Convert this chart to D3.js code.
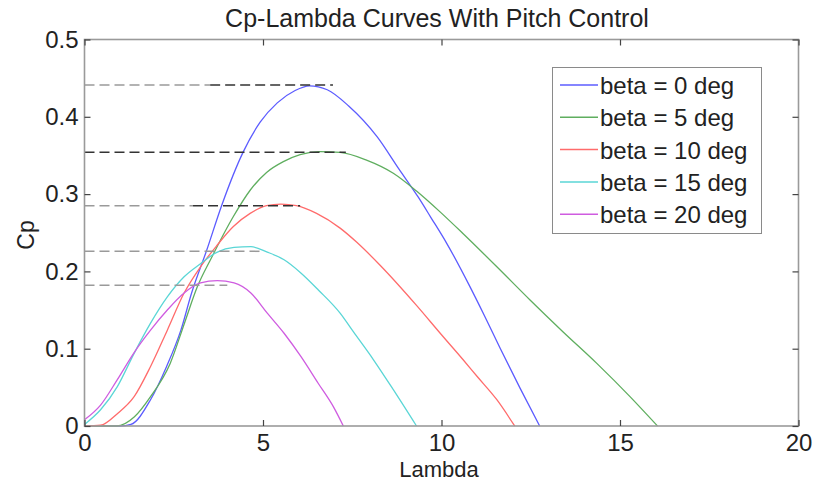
<!DOCTYPE html>
<html>
<head>
<meta charset="utf-8">
<script src="https://cdn.jsdelivr.net/npm/d3@7"></script>
<style>
  body { margin: 0; background: #fff; }
  text { font-family: "Liberation Sans", Arial, sans-serif; fill: #222; }
</style>
</head>
<body>
<div id="panel"></div>
<script>
var w = 814;
var h = 482;

// lambda / Cp pairs, one array per pitch angle
var beta0 = [[0,0],[1.0,0],[1.3,0.002],[1.85,0.034],[2.3,0.077],[2.7,0.124],[3.0,0.172],[3.42,0.227],[3.84,0.285],[4.44,0.354],[4.92,0.393],[5.4,0.418],[5.9,0.434],[6.3,0.440],[6.8,0.435],[7.4,0.414],[8.2,0.374],[8.8,0.333],[9.35,0.296],[9.7,0.270],[10.15,0.236],[10.8,0.180],[11.2,0.143],[11.65,0.100],[12.2,0.049],[12.75,0]];
var beta5 = [[0,0],[0.9,0],[1.4,0.012],[1.85,0.038],[2.4,0.081],[2.8,0.133],[3.16,0.180],[3.55,0.217],[4.17,0.271],[4.64,0.305],[5.1,0.328],[5.57,0.342],[6.04,0.351],[6.6,0.355],[7.16,0.354],[7.9,0.344],[8.65,0.327],[9.3,0.304],[9.96,0.277],[10.6,0.249],[11.55,0.206],[12.48,0.163],[13.4,0.122],[14.35,0.081],[15.28,0.038],[16.05,0]];
var beta10 = [[0,0],[0.45,0.001],[0.92,0.016],[1.39,0.038],[1.85,0.077],[2.32,0.124],[2.79,0.172],[3.25,0.206],[3.7,0.233],[4.17,0.258],[4.64,0.275],[5.1,0.285],[5.5,0.287],[5.94,0.285],[6.5,0.275],[7.16,0.256],[7.62,0.238],[8.3,0.207],[9.3,0.156],[10.0,0.118],[10.6,0.086],[11.0,0.064],[11.55,0.034],[12.05,0]];
var beta15 = [[0,0.002],[0.45,0.021],[0.92,0.051],[1.39,0.094],[1.85,0.133],[2.32,0.167],[2.79,0.193],[3.25,0.210],[3.72,0.225],[4.19,0.231],[4.66,0.232],[5.12,0.225],[5.59,0.215],[6.06,0.198],[6.55,0.176],[7.16,0.146],[7.53,0.122],[8.09,0.086],[8.65,0.047],[9.3,0]];
var beta20 = [[0,0.008],[0.45,0.027],[0.92,0.060],[1.39,0.095],[1.85,0.124],[2.32,0.150],[2.79,0.172],[3.25,0.185],[3.72,0.188],[4.19,0.185],[4.66,0.172],[5.12,0.146],[5.59,0.120],[6.06,0.090],[6.55,0.055],[6.97,0.025],[7.25,0]];

var seriesNames = ['beta = 0 deg', 'beta = 5 deg', 'beta = 10 deg', 'beta = 15 deg', 'beta = 20 deg'];
var seriesData = [beta0, beta5, beta10, beta15, beta20];
var seriesColors = ['#5c5cff', '#5fae5f', '#ff6b6b', '#5ad6d6', '#cf5ce0'];

// peak marker lines: Cp level, end of light part, end of dark part (lambda)
var peakLevels = [0.441, 0.354, 0.285, 0.226, 0.182];
var peakLightEnd = [3.52, 0, 3.04, 4.95, 4.0];
var peakDarkEnd = [6.96, 7.32, 6.04, 4.95, 4.0];

var xTicks = [0, 5, 10, 15, 20];
var yTicks = [0, 0.1, 0.2, 0.3, 0.4, 0.5];

var svg = d3.select('#panel').append('svg').attr('width', w).attr('height', h);

var x = d3.scaleLinear().domain([0, 20]).range([84.5, 798.5]);
var y = d3.scaleLinear().domain([0, 0.5]).range([426, 39.5]);

var line = d3.line()
    .x(function (d) { return x(d[0]); })
    .y(function (d) { return y(d[1]); })
    .curve(d3.curveMonotoneX);

// curves
svg.selectAll('path.curve')
    .data(seriesData)
    .enter()
    .append('path')
    .attr('class', 'curve')
    .attr('d', line)
    .attr('fill', 'none')
    .attr('stroke', function (d, i) { return seriesColors[i]; })
    .attr('stroke-width', 1.3);

// dashed peak lines
var dash = svg.append('g').attr('stroke-dasharray', '10,5').attr('stroke-width', 1.5);
peakLevels.forEach(function (lv, i) {
  if (peakLightEnd[i] > 0) {
    dash.append('line')
      .attr('x1', x(0)).attr('x2', x(peakLightEnd[i]))
      .attr('y1', y(lv)).attr('y2', y(lv))
      .attr('stroke', '#9a9a9a');
  }
  if (peakDarkEnd[i] > peakLightEnd[i]) {
    dash.append('line')
      .attr('x1', x(peakLightEnd[i])).attr('x2', x(peakDarkEnd[i]))
      .attr('y1', y(lv)).attr('y2', y(lv))
      .attr('stroke', '#333');
  }
});

// axes box + inward ticks
var tk = 6;
svg.append('rect')
    .attr('x', x(0)).attr('y', y(0.5))
    .attr('width', x(20) - x(0)).attr('height', y(0) - y(0.5))
    .attr('fill', 'none').attr('stroke', '#9a9a9a').attr('stroke-width', 1.6);

var axB = d3.axisBottom(x).tickValues(xTicks).tickSize(-tk).tickPadding(8).tickFormat(d3.format('d'));
var axT = d3.axisTop(x).tickValues(xTicks).tickSize(-tk).tickFormat('');
var axL = d3.axisLeft(y).tickValues(yTicks).tickSize(-tk).tickPadding(6).tickFormat(function (d) { return d === 0 ? '0' : d3.format('.1f')(d); });
var axR = d3.axisRight(y).tickValues(yTicks).tickSize(-tk).tickFormat('');

[[axB, 'translate(0,' + y(0) + ')'], [axT, 'translate(0,' + y(0.5) + ')'],
 [axL, 'translate(' + x(0) + ',0)'], [axR, 'translate(' + x(20) + ',0)']].forEach(function (a) {
  var g = svg.append('g').attr('transform', a[1]).call(a[0]);
  g.select('.domain').remove();
  g.selectAll('.tick line').attr('stroke', '#444').attr('stroke-width', 1.2);
  g.selectAll('.tick text').attr('font-size', 24).attr('fill', '#222')
    .attr('font-family', '"Liberation Sans", Arial, sans-serif');
});

// titles
svg.append('text').attr('x', 437).attr('y', 27).attr('text-anchor', 'middle')
    .attr('font-size', 25).text('Cp-Lambda Curves With Pitch Control');
svg.append('text').attr('x', 439).attr('y', 477).attr('text-anchor', 'middle')
    .attr('font-size', 22).text('Lambda');
svg.append('text').attr('transform', 'translate(34,235) rotate(-90)').attr('text-anchor', 'middle')
    .attr('font-size', 23).text('Cp');

// legend
var lg = svg.append('g');
lg.append('rect').attr('x', 552.5).attr('y', 67.5).attr('width', 209).attr('height', 166)
    .attr('fill', '#fff').attr('stroke', '#8a8a8a').attr('stroke-width', 1);
seriesNames.forEach(function (n, i) {
  var ly = 85 + i * 32.3;
  lg.append('line').attr('x1', 560).attr('x2', 598).attr('y1', ly).attr('y2', ly)
    .attr('stroke', seriesColors[i]).attr('stroke-width', 1.5);
  lg.append('text').attr('x', 600).attr('y', ly + 9).attr('font-size', 24).text(n);
});
</script>
</body>
</html>
